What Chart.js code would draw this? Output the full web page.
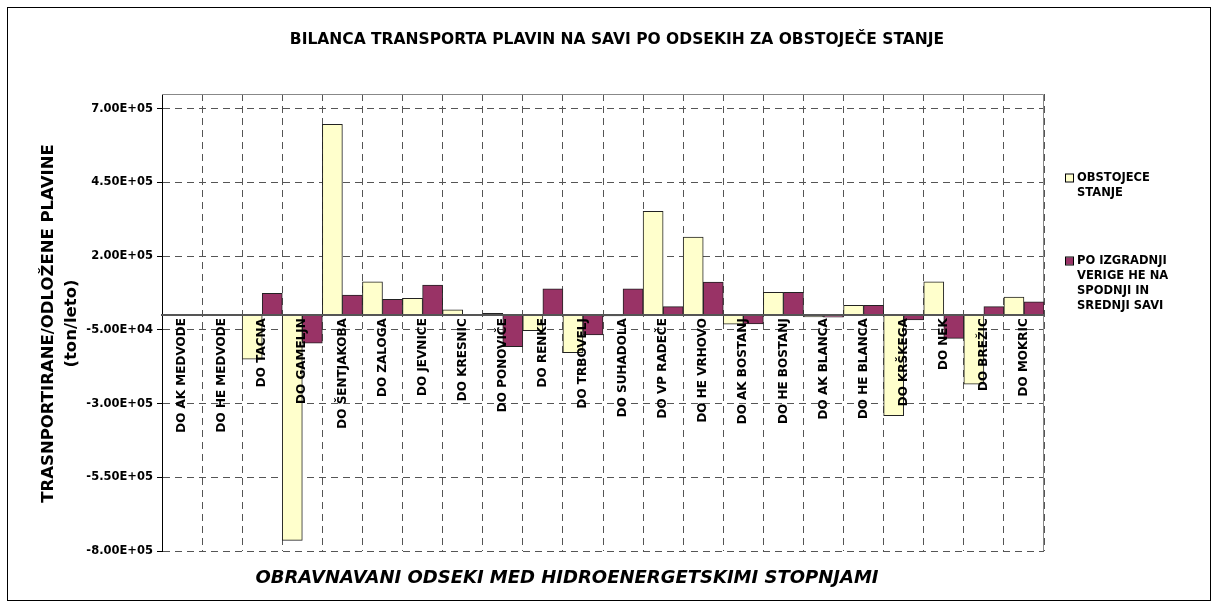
<!DOCTYPE html>
<html>
<head>
<meta charset="utf-8">
<script src="https://cdn.jsdelivr.net/npm/chart.js@4.4.0/dist/chart.umd.min.js"></script>
<style>
    html, body { margin: 0; padding: 0; background: #fff; }
    #wrap { width: 1218px; height: 609px; }
</style>
</head>
<body>
<div id="wrap"><canvas id="chart"></canvas></div>
<script>
const sections = [
    'DO AK MEDVODE', 'DO HE MEDVODE', 'DO TACNA', 'DO GAMELJN', 'DO ŠENTJAKOBA',
    'DO ZALOGA', 'DO JEVNICE', 'DO KRESNIC', 'DO PONOVIČE', 'DO RENKE',
    'DO TRBOVELJ', 'DO SUHADOLA', 'DO VP RADEČE', 'DO HE VRHOVO', 'DO AK BOSTANJ',
    'DO HE BOSTANJ', 'DO AK BLANCA', 'DO HE BLANCA', 'DO KRŠKEGA', 'DO NEK',
    'DO BREŽIC', 'DO MOKRIC'
];

// ton/leto
const existingState = [
    0, 0, -149000, -764000, 647000, 113000, 57000, 18000, 6000, -53000,
    -127000, -3000, 352000, 265000, -31000, 77000, -6000, 33000, -341000, 113000,
    -234000, 61000
];
const afterConstruction = [
    0, 0, 74000, -95000, 68000, 54000, 102000, 0, -107000, 89000,
    -67000, 89000, 29000, 112000, -30000, 77000, -7000, 33000, -16000, -79000,
    29000, 45000
];

const yTicks = [-800000, -550000, -300000, -50000, 200000, 450000, 700000];
const yMin = -800000;
const yMax = 750000;

const seriesNames = ['OBSTOJECE STANJE', 'PO IZGRADNJI VERIGE HE NA SPODNJI IN SREDNJI SAVI'];
const legendLines = [
    ['OBSTOJECE', 'STANJE'],
    ['PO IZGRADNJI', 'VERIGE HE NA', 'SPODNJI IN', 'SREDNJI SAVI']
];
const chartTitle = 'BILANCA TRANSPORTA PLAVIN NA SAVI PO ODSEKIH ZA OBSTOJEČE STANJE';
const xTitle = 'OBRAVNAVANI ODSEKI MED HIDROENERGETSKIMI STOPNJAMI';
const yTitle = ['TRASNPORTIRANE/ODLOŽENE PLAVINE', '(ton/leto)'];

const FONT = "'DejaVu Sans', Verdana, sans-serif";
const colors = ['#FFFFCC', '#993366'];

function sci(v) {
    const [m, e] = Number(v).toExponential(2).split('e');
    const n = parseInt(e, 10);
    return m + 'E' + (n < 0 ? '-' : '+') + String(Math.abs(n)).padStart(2, '0');
}

// titles, frame and legend
const decor = {
    id: 'decor',
    beforeDraw(chart) {
        const ctx = chart.ctx;
        ctx.save();
        ctx.fillStyle = '#fff';
        ctx.fillRect(0, 0, chart.width, chart.height);
        ctx.strokeStyle = '#000';
        ctx.lineWidth = 1;
        ctx.strokeRect(7.5, 7.5, 1203, 593);
        ctx.restore();
    },
    beforeDatasetsDraw(chart) {
        const { ctx, chartArea: a } = chart;
        ctx.save();
        ctx.strokeStyle = '#888';
        ctx.lineWidth = 1;
        ctx.beginPath();
        ctx.moveTo(a.left, a.top + 0.5);
        ctx.lineTo(a.right - 0.5, a.top + 0.5);
        ctx.lineTo(a.right - 0.5, a.bottom);
        ctx.stroke();
        ctx.restore();
    },
    afterDraw(chart) {
        const { ctx, chartArea: a } = chart;
        ctx.save();
        ctx.fillStyle = '#000';
        ctx.textBaseline = 'middle';

        // main title
        ctx.font = 'bold 15.5px ' + FONT;
        ctx.textAlign = 'center';
        ctx.fillText(chartTitle, 617, 40);

        // x title
        ctx.font = 'italic bold 18px ' + FONT;
        ctx.fillText(xTitle, 567, 578);

        // y title
        ctx.save();
        ctx.translate(49, (a.top + a.bottom) / 2 + 1);
        ctx.rotate(-Math.PI / 2);
        ctx.font = 'bold 16.5px ' + FONT;
        ctx.fillText(yTitle[0], 0, 0);
        ctx.fillText(yTitle[1], 0, 23);
        ctx.restore();

        // legend
        const tops = [178, 261];
        ctx.font = 'bold 11.5px ' + FONT;
        ctx.textAlign = 'left';
        legendLines.forEach((lines, i) => {
            const y0 = tops[i];
            ctx.fillStyle = colors[i];
            ctx.fillRect(1066, y0 - 3.5, 7, 7);
            ctx.strokeStyle = '#000';
            ctx.lineWidth = 1;
            ctx.strokeRect(1065.5, y0 - 4, 8, 8);
            ctx.fillStyle = '#000';
            lines.forEach((line, j) => ctx.fillText(line, 1077, y0 + j * 15));
        });
        ctx.restore();
    }
};

new Chart(document.getElementById('chart'), {
    type: 'bar',
    data: {
        labels: sections,
        datasets: [
            {
                label: seriesNames[0],
                data: existingState,
                backgroundColor: colors[0],
                borderColor: '#222',
                borderWidth: 1,
                borderSkipped: false
            },
            {
                label: seriesNames[1],
                data: afterConstruction,
                backgroundColor: colors[1],
                borderColor: '#222',
                borderWidth: 1,
                borderSkipped: false
            }
        ]
    },
    options: {
        responsive: true,
        maintainAspectRatio: false,
        animation: false,
        layout: { padding: { left: 0, top: 94, right: 174, bottom: 58 } },
        datasets: { bar: { categoryPercentage: 1, barPercentage: 1 } },
        plugins: {
            legend: { display: false },
            title: { display: false },
            tooltip: { enabled: false }
        },
        scales: {
            x: {
                position: { y: 0 },
                grid: { color: '#555', lineWidth: 1, drawTicks: false, offset: true },
                border: { display: true, color: '#555', width: 2, dash: [7, 5], z: 1 },
                ticks: {
                    z: 1,
                    autoSkip: false,
                    minRotation: 90,
                    maxRotation: 90,
                    padding: 3,
                    color: '#000',
                    font: { family: FONT, size: 12, weight: 'bold' }
                }
            },
            y: {
                min: yMin,
                max: yMax,
                afterBuildTicks: scale => { scale.ticks = yTicks.map(v => ({ value: v })); },
                afterFit: scale => { scale.width = 162; },
                grid: { color: '#555', lineWidth: 1, drawTicks: true, tickLength: 5, tickColor: '#000' },
                border: { display: true, color: '#000', width: 1, dash: [7, 5] },
                ticks: {
                    padding: 4,
                    color: '#000',
                    font: { family: FONT, size: 11.5, weight: 'bold' },
                    callback: v => sci(v)
                }
            }
        }
    },
    plugins: [decor]
});
</script>
</body>
</html>
